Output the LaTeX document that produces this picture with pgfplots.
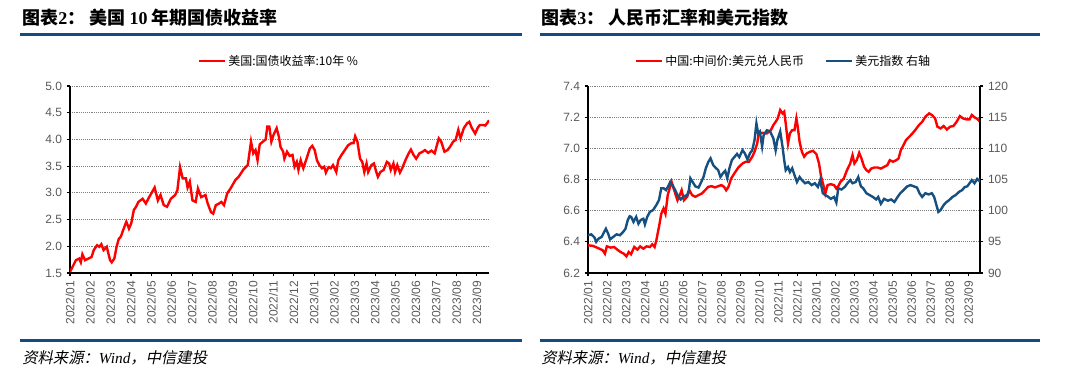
\documentclass[border=0pt]{standalone}
\usepackage{fontspec}
\usepackage{pgfplots}
\pgfplotsset{compat=1.18}
\setmainfont{Liberation Sans}
\newfontfamily\cjk{Noto Sans CJK SC}
\newfontfamily\cjkit[FakeSlant=0.2]{Noto Sans CJK SC}
\newfontfamily\tnr{Liberation Serif}
\definecolor{rulebl}{RGB}{18,76,130}
\definecolor{dxy}{RGB}{22,80,128}
\definecolor{tickgray}{RGB}{89,89,89}
\pgfplotsset{
  myax/.style={
    scale only axis,
    axis x line*=bottom, axis y line*=left,
    axis line style={black, line width=0.8pt},
    tick align=outside, major tick length=2.5pt,
    tick style={black, line width=0.8pt},
    ymajorgrids, grid style={densely dotted, gray, line width=0.6pt},
    xmin=0, xmax=20.6, xtick={0,1,...,20},
    xticklabels={2022/01,2022/02,2022/03,2022/04,2022/05,2022/06,2022/07,2022/08,2022/09,2022/10,2022/11,2022/12,2023/01,2023/02,2023/03,2023/04,2023/05,2023/06,2023/07,2023/08,2023/09},
    xticklabel style={rotate=90, anchor=east, font=\fontsize{9}{10}\selectfont, text=tickgray},
    yticklabel style={font=\fontsize{9}{10}\selectfont, text=tickgray},
    /pgf/number format/assume math mode=true,
    /pgf/number format/.cd, fixed, precision=1, zerofill, /pgfplots/.cd,
    legend style={draw=none, fill=none, font=\cjk\fontsize{9}{10}\selectfont, at={(0.5,1)}, anchor=center, yshift=18.75pt},
    legend image code/.code={\draw[##1, line width=1.5pt] (0pt,0pt) -- (19pt,0pt);},
  }
}
\begin{document}
\begin{tikzpicture}
\path (0,0) rectangle (810pt,284.25pt);
% titles and rules
\node[anchor=west, inner sep=0pt] at (16.5pt,270.75pt) {\cjk\bfseries\fontsize{13.5}{14}\selectfont 图表{\tnr\bfseries 2}：\ 美国 {\tnr\bfseries 10} 年期国债收益率};
\node[anchor=west, inner sep=0pt] at (405.75pt,270.75pt) {\cjk\bfseries\fontsize{13.5}{14}\selectfont 图表{\tnr\bfseries 3}：\ 人民币汇率和美元指数};
\draw[rulebl, line width=2.25pt] (15pt,258pt) -- (391.5pt,258pt);
\draw[rulebl, line width=2.25pt] (405pt,258pt) -- (780pt,258pt);
\draw[rulebl, line width=2.25pt] (15pt,29.25pt) -- (391.5pt,29.25pt);
\draw[rulebl, line width=2.25pt] (405pt,29.25pt) -- (780pt,29.25pt);
\node[anchor=west, inner sep=0pt] at (16.5pt,16pt) {\cjkit\fontsize{11.5}{12}\selectfont 资料来源：{\tnr\itshape Wind}，中信建投};
\node[anchor=west, inner sep=0pt] at (405.75pt,16pt) {\cjkit\fontsize{11.5}{12}\selectfont 资料来源：{\tnr\itshape Wind}，中信建投};

% left chart
\begin{axis}[myax, at={(52.5pt,79.5pt)}, anchor=south west, width=314.25pt, height=140.25pt,
  ymin=1.5, ymax=5.0, ytick={1.5,2.0,...,5.0}]
\addplot[red, line width=1.8pt] coordinates {
(0.00,1.52)(0.29,1.74)(0.45,1.77)(0.53,1.70)(0.61,1.85)(0.74,1.74)(0.90,1.77)(1.06,1.80)(1.17,1.93)(1.33,2.02)
(1.44,1.99)(1.54,2.04)(1.65,1.93)(1.81,1.99)(1.89,1.86)(1.97,1.74)(2.05,1.70)(2.18,1.77)(2.29,1.99)(2.40,2.14)
(2.50,2.18)(2.61,2.30)(2.77,2.46)(2.90,2.33)(3.01,2.43)(3.14,2.68)(3.25,2.74)(3.36,2.83)(3.57,2.89)(3.73,2.80)
(3.89,2.92)(4.00,2.99)(4.16,3.10)(4.32,2.86)(4.45,2.96)(4.61,2.77)(4.77,2.74)(4.96,2.89)(5.17,2.96)(5.28,3.05)
(5.41,3.48)(5.54,3.27)(5.70,3.27)(5.78,3.10)(5.89,3.21)(6.02,2.86)(6.18,2.83)(6.29,3.08)(6.45,2.92)(6.66,2.96)
(6.77,2.80)(6.93,2.64)(7.04,2.61)(7.17,2.77)(7.33,2.80)(7.44,2.83)(7.57,2.77)(7.73,2.99)(7.89,3.08)(8.13,3.24)
(8.29,3.30)(8.53,3.44)(8.74,3.52)(8.90,3.96)(9.01,3.74)(9.12,3.80)(9.22,3.61)(9.33,3.91)(9.49,3.96)(9.62,4.00)
(9.70,4.24)(9.80,4.24)(9.90,3.96)(10.00,4.08)(10.16,4.21)(10.27,4.05)(10.35,3.86)(10.48,3.77)(10.54,3.64)(10.67,3.77)
(10.80,3.69)(10.94,3.71)(11.04,3.49)(11.15,3.58)(11.23,3.43)(11.34,3.61)(11.47,3.46)(11.63,3.64)(11.79,3.83)(11.91,3.88)
(12.03,3.80)(12.14,3.61)(12.26,3.52)(12.39,3.46)(12.50,3.49)(12.58,3.38)(12.71,3.48)(12.82,3.46)(12.93,3.52)(13.09,3.39)
(13.19,3.61)(13.35,3.71)(13.51,3.80)(13.67,3.89)(13.83,3.93)(13.94,3.93)(14.02,4.06)(14.13,3.96)(14.26,3.64)(14.37,3.58)
(14.47,3.39)(14.58,3.55)(14.66,3.39)(14.82,3.52)(14.94,3.55)(15.06,3.39)(15.14,3.30)(15.26,3.39)(15.42,3.43)(15.58,3.58)
(15.69,3.55)(15.77,3.43)(15.90,3.55)(15.98,3.39)(16.09,3.52)(16.22,3.38)(16.33,3.46)(16.49,3.61)(16.65,3.74)(16.76,3.81)
(16.89,3.71)(17.02,3.64)(17.18,3.74)(17.34,3.77)(17.45,3.80)(17.61,3.75)(17.77,3.79)(17.93,3.74)(18.13,4.02)(18.25,3.96)
(18.41,3.77)(18.56,3.80)(18.68,3.86)(18.84,3.96)(18.96,3.99)(19.09,4.18)(19.20,4.02)(19.36,4.21)(19.52,4.30)(19.63,4.33)
(19.76,4.21)(19.92,4.11)(20.05,4.22)(20.15,4.27)(20.30,4.27)(20.42,4.26)(20.52,4.31)(20.60,4.36)
};
\addlegendentry{美国:国债收益率:10年 \%}
\end{axis}

% right chart, left axis
\begin{axis}[myax, at={(441pt,79.5pt)}, anchor=south west, width=294pt, height=140.25pt,
  ymin=6.2, ymax=7.4, ytick={6.2,6.4,...,7.4}, legend columns=2,
  legend style={/tikz/every even column/.append style={column sep=14pt}}]
\addplot[red, line width=1.8pt] coordinates {
(0.00,6.378)(0.26,6.374)(0.51,6.361)(0.77,6.346)(0.89,6.324)(0.99,6.371)(1.20,6.363)(1.37,6.367)(1.54,6.350)(1.71,6.335)
(1.88,6.324)(2.02,6.307)(2.14,6.335)(2.26,6.320)(2.43,6.367)(2.60,6.350)(2.74,6.371)(2.91,6.356)(3.08,6.371)(3.25,6.367)
(3.38,6.384)(3.50,6.367)(3.59,6.410)(3.73,6.496)(3.85,6.580)(3.97,6.614)(4.07,6.580)(4.19,6.700)(4.31,6.753)(4.39,6.785)
(4.53,6.731)(4.70,6.667)(4.82,6.700)(4.92,6.731)(5.04,6.667)(5.21,6.689)(5.33,6.731)(5.47,6.700)(5.64,6.689)(5.81,6.700)
(5.98,6.710)(6.15,6.731)(6.32,6.753)(6.50,6.757)(6.67,6.749)(6.84,6.757)(7.01,6.764)(7.15,6.753)(7.26,6.731)(7.38,6.753)
(7.52,6.806)(7.69,6.839)(7.90,6.877)(8.12,6.903)(8.29,6.914)(8.46,6.914)(8.63,6.946)(8.75,6.978)(8.89,7.031)(8.97,7.096)
(9.15,7.100)(9.40,7.096)(9.61,7.117)(9.74,7.149)(9.86,7.170)(9.97,7.192)(10.10,7.246)(10.22,7.224)(10.31,7.235)(10.39,7.160)
(10.51,7.031)(10.61,7.096)(10.73,7.117)(10.85,7.117)(10.95,7.192)(11.02,7.139)(11.12,7.042)(11.24,6.978)(11.36,6.946)(11.49,6.967)
(11.66,6.978)(11.83,6.984)(12.00,6.963)(12.14,6.903)(12.25,6.817)(12.37,6.764)(12.47,6.710)(12.59,6.764)(12.76,6.770)(12.93,6.764)
(13.05,6.742)(13.15,6.757)(13.27,6.785)(13.44,6.806)(13.61,6.860)(13.78,6.903)(13.90,6.956)(14.00,6.903)(14.12,6.924)(14.25,6.971)
(14.37,6.935)(14.51,6.881)(14.63,6.860)(14.75,6.849)(14.88,6.870)(15.05,6.877)(15.22,6.877)(15.39,6.870)(15.56,6.881)(15.73,6.892)
(15.86,6.924)(16.03,6.914)(16.20,6.924)(16.32,6.935)(16.44,6.989)(16.58,7.021)(16.71,7.053)(16.88,7.074)(17.05,7.096)(17.22,7.121)
(17.39,7.149)(17.56,7.170)(17.73,7.203)(17.93,7.224)(18.07,7.214)(18.24,7.192)(18.36,7.139)(18.53,7.128)(18.69,7.143)(18.86,7.121)
(19.03,7.139)(19.20,7.143)(19.37,7.170)(19.54,7.207)(19.71,7.192)(19.88,7.186)(20.05,7.186)(20.17,7.214)(20.31,7.199)(20.45,7.190)
(20.60,7.170)
};
\addlegendentry{中国:中间价:美元兑人民币}
\addlegendimage{dxy, line width=1.8pt}
\addlegendentry{美元指数 右轴}
\end{axis}

% right chart, right axis
\begin{axis}[scale only axis, at={(441pt,79.5pt)}, anchor=south west, width=294pt, height=140.25pt,
  xmin=0, xmax=20.6, ymin=90, ymax=120, ytick={90,95,...,120},
  axis x line=none, axis y line*=right,
  axis line style={black, line width=0.8pt},
  tick align=outside, major tick length=2.5pt, tick style={black, line width=0.8pt},
  yticklabel style={font=\fontsize{9}{10}\selectfont, text=tickgray},
  /pgf/number format/assume math mode=true]
\addplot[dxy, line width=1.8pt] coordinates {
(0.00,96.06)(0.17,96.2)(0.34,95.7)(0.43,95.0)(0.55,95.5)(0.72,95.8)(0.85,96.6)(0.94,97.1)(1.06,96.3)(1.16,95.4)
(1.33,95.8)(1.50,96.2)(1.68,96.06)(1.85,96.6)(1.97,97.1)(2.09,98.5)(2.19,99.1)(2.27,99.0)(2.39,98.2)(2.53,99.0)
(2.65,97.9)(2.77,98.5)(2.91,98.7)(2.99,97.8)(3.11,99.0)(3.25,99.8)(3.42,100.1)(3.59,100.9)(3.73,101.7)(3.85,103.6)
(3.97,103.6)(4.10,103.3)(4.21,103.9)(4.32,104.6)(4.44,104.1)(4.58,103.3)(4.70,102.5)(4.87,101.8)(5.04,102.3)(5.21,102.5)
(5.30,103.3)(5.38,105.2)(5.50,104.6)(5.64,103.9)(5.81,103.7)(5.95,104.6)(6.07,105.4)(6.19,106.8)(6.32,107.8)(6.44,108.4)
(6.58,107.3)(6.70,106.9)(6.84,106.5)(6.96,105.4)(7.09,106.0)(7.21,106.4)(7.32,105.2)(7.44,106.9)(7.56,108.1)(7.69,108.6)
(7.83,109.1)(7.95,108.6)(8.12,109.7)(8.24,109.2)(8.38,108.2)(8.51,109.2)(8.63,109.7)(8.75,111.3)(8.85,114.0)(8.94,112.4)
(9.03,112.7)(9.15,110.3)(9.23,112.1)(9.40,112.9)(9.57,112.7)(9.74,111.6)(9.86,109.7)(9.95,111.3)(10.10,112.7)(10.22,110.3)
(10.31,108.1)(10.39,106.5)(10.51,107.0)(10.61,106.2)(10.73,106.8)(10.85,105.7)(10.98,104.6)(11.12,105.4)(11.24,104.9)(11.41,104.4)
(11.58,104.6)(11.75,104.1)(11.92,104.4)(12.08,103.8)(12.20,104.9)(12.34,102.8)(12.47,102.5)(12.59,102.3)(12.76,101.9)(12.93,102.2)
(13.05,101.3)(13.15,103.6)(13.32,103.4)(13.49,103.8)(13.66,104.5)(13.78,104.9)(13.90,104.4)(14.07,104.6)(14.20,105.4)(14.34,103.9)
(14.46,103.6)(14.63,102.8)(14.80,102.5)(14.97,102.2)(15.14,101.8)(15.25,102.2)(15.39,101.1)(15.56,101.9)(15.76,101.6)(15.93,101.8)
(16.10,101.4)(16.27,102.2)(16.41,102.8)(16.58,103.3)(16.78,103.9)(16.95,104.1)(17.12,103.9)(17.29,103.7)(17.42,102.8)(17.56,102.2)
(17.73,102.8)(17.90,102.6)(18.07,102.8)(18.19,102.2)(18.31,100.9)(18.41,99.8)(18.53,100.1)(18.69,100.9)(18.81,101.3)(18.98,101.7)
(19.15,102.2)(19.32,102.5)(19.49,103.0)(19.66,103.3)(19.80,103.8)(19.93,103.9)(20.05,104.4)(20.17,104.9)(20.31,104.4)(20.45,105.1)
(20.55,104.8)(20.60,105.1)
};
\end{axis}
\end{tikzpicture}
\end{document}
